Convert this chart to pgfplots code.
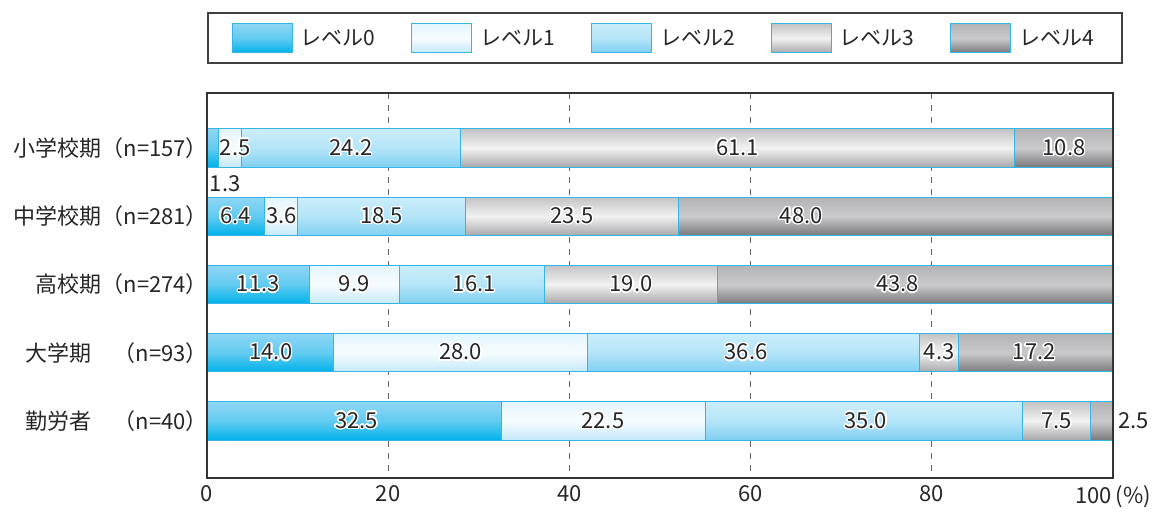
\documentclass[border=0pt]{standalone}
\usepackage{pgfplots}
\pgfplotsset{compat=1.18}
\usepackage{fontspec}
\setmainfont{Noto Sans CJK JP}
\usepackage{contour}
\contourlength{0.7pt}
\contournumber{16}
\definecolor{bcyan}{HTML}{35B4E6}
\definecolor{l0t}{HTML}{8FD6F4}
\definecolor{l0m}{HTML}{62CBF1}
\definecolor{l0b}{HTML}{00B2EA}
\definecolor{l1t}{HTML}{E4F5FD}
\definecolor{l1m}{HTML}{F6FCFF}
\definecolor{l1b}{HTML}{C4E9FA}
\definecolor{l2t}{HTML}{CBEDFA}
\definecolor{l2m}{HTML}{B4E5F8}
\definecolor{l2b}{HTML}{80D0F2}
\definecolor{l3t}{HTML}{C4C4C6}
\definecolor{l3m}{HTML}{F2F2F2}
\definecolor{l3b}{HTML}{A8A8AB}
\definecolor{l4t}{HTML}{B3B3B5}
\definecolor{l4m}{HTML}{CACACC}
\definecolor{l4b}{HTML}{7A7A7D}
\pgfplotsset{
  geom/.style={scale only axis, width=453pt, height=192.5pt,
    xmin=0, xmax=100, ymin=-0.806, ymax=4.835, y dir=reverse},
  rowaxis/.style={geom, hide axis, xbar stacked, bar width=0.56},
  lev0/.style={draw=bcyan, line width=0.5pt, top color=l0t, bottom color=l0b, middle color=l0m},
  lev1/.style={draw=bcyan, line width=0.5pt, top color=l1t, bottom color=l1b, middle color=l1m},
  lev2/.style={draw=bcyan, line width=0.5pt, top color=l2t, bottom color=l2b, middle color=l2m},
  lev3/.style={draw=bcyan, line width=0.5pt, top color=l3t, bottom color=l3b, middle color=l3m},
  lev4/.style={draw=bcyan, line width=0.5pt, top color=l4t, bottom color=l4b, middle color=l4m},
}
\begin{document}
\begin{tikzpicture}
% frame, grid, tick labels, legend
\begin{axis}[
  geom,
  xtick={0,20,40,60,80,100},
  xticklabels={0,20,40,60,80,100\,(\%)},
  ytick={0,1,2,3,4},
  yticklabels={小学校期（n=157）,中学校期（n=281）,高校期（n=274）,大学期　（n=93）,勤労者　（n=40）},
  yticklabel style={xshift=4pt},
  tick style={draw=none},
  xmajorgrids,
  major grid style={dash pattern=on 3pt off 3pt, color=black!60, line width=0.5pt},
  axis line style={draw=black!80, line width=0.7pt},
  font=\fontsize{11}{13}\selectfont,
  ticklabel style={font=\fontsize{11}{13}\selectfont, text=black!85},
  /pgf/number format/assume math mode=true,
  legend columns=5,
  legend style={at={(0,1)}, anchor=south west, yshift=14.5pt,
    draw=black!75, line width=0.8pt, inner xsep=12pt, inner ysep=5pt,
    font=\fontsize{10.5}{13}\selectfont, text=black!85,
    /tikz/every odd column/.append style={column sep=2pt},
    /tikz/every even column/.append style={column sep=16pt}},
  legend cell align=left,
  legend image code/.code={\draw[#1, line width=0.5pt] (0pt,-7pt) rectangle (30pt,7.5pt);},
]
\addlegendimage{lev0}
\addlegendimage{lev1}
\addlegendimage{lev2}
\addlegendimage{lev3}
\addlegendimage{lev4}
\legend{レベル0,レベル1,レベル2,レベル3,レベル4}
\end{axis}
% one axis per row, so that each bar is shaded on its own
\begin{axis}[rowaxis]
\addplot[lev0] coordinates {(1.3,0)};
\addplot[lev1] coordinates {(2.5,0)};
\addplot[lev2] coordinates {(24.2,0)};
\addplot[lev3] coordinates {(61.1,0)};
\addplot[lev4] coordinates {(10.8,0)};
\end{axis}
\begin{axis}[rowaxis]
\addplot[lev0] coordinates {(6.4,1)};
\addplot[lev1] coordinates {(3.6,1)};
\addplot[lev2] coordinates {(18.5,1)};
\addplot[lev3] coordinates {(23.5,1)};
\addplot[lev4] coordinates {(48.0,1)};
\end{axis}
\begin{axis}[rowaxis]
\addplot[lev0] coordinates {(11.3,2)};
\addplot[lev1] coordinates {(9.9,2)};
\addplot[lev2] coordinates {(16.1,2)};
\addplot[lev3] coordinates {(19.0,2)};
\addplot[lev4] coordinates {(43.8,2)};
\end{axis}
\begin{axis}[rowaxis]
\addplot[lev0] coordinates {(14.0,3)};
\addplot[lev1] coordinates {(28.0,3)};
\addplot[lev2] coordinates {(36.6,3)};
\addplot[lev3] coordinates {(4.3,3)};
\addplot[lev4] coordinates {(17.2,3)};
\end{axis}
\begin{axis}[rowaxis]
\addplot[lev0] coordinates {(32.5,4)};
\addplot[lev1] coordinates {(22.5,4)};
\addplot[lev2] coordinates {(35.0,4)};
\addplot[lev3] coordinates {(7.5,4)};
\addplot[lev4] coordinates {(2.5,4)};
\end{axis}
% value labels and the frame on top
\begin{axis}[
  geom, clip=false, axis on top,
  xtick=\empty, ytick=\empty,
  axis line style={draw=black!80, line width=0.7pt},
]
\addplot[draw=none, mark=none, point meta=explicit symbolic,
  nodes near coords={\contour{white}{\pgfplotspointmeta}},
  every node near coord/.style={anchor=center, inner sep=0pt, text=black!85,
     font=\fontsize{11}{13}\selectfont}]
  table[meta=label] {
x y label
2.0 0.53 1.3
3.1 0 2.5
15.9 0 24.2
58.55 0 61.1
94.6 0 10.8
3.15 1 6.4
8.2 1 3.6
19.25 1 18.5
40.3 1 23.5
65.6 1 48.0
5.65 2 11.3
16.25 2 9.9
29.5 2 16.1
46.8 2 19.0
76.2 2 43.8
7.05 3 14.0
28.0 3 28.0
59.5 3 36.6
80.8 3 4.3
91.3 3 17.2
16.5 4 32.5
43.7 4 22.5
72.7 4 35.0
93.8 4 7.5
102.3 4 2.5
};
\end{axis}
\path (current axis.south west) ++(-103.5pt,-15.5pt) rectangle ++(579.5pt,254.5pt);
\end{tikzpicture}
\end{document}
